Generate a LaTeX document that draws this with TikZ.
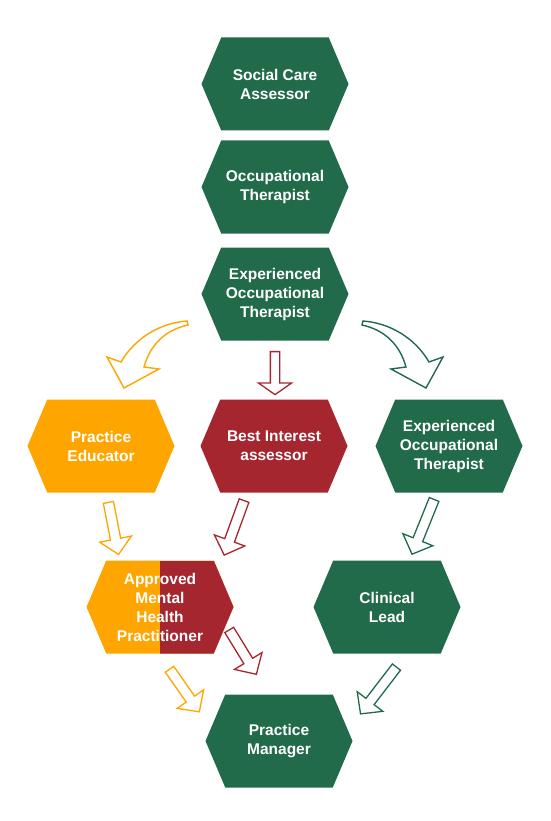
\documentclass[tikz,border=0pt]{standalone}
\usepackage{fontspec}
\setmainfont{Liberation Sans}
\usepackage{tikz}
\usetikzlibrary{shapes.symbols, shapes.arrows, positioning, calc}
\definecolor{cgreen}{RGB}{33,107,74}
\definecolor{corange}{RGB}{255,165,0}
\definecolor{cred}{RGB}{166,38,47}
\tikzset{
    hexa/.style={shape=signal, signal to=west and east, signal pointer angle=134,
        minimum width=147pt, minimum height=93pt, inner sep=0pt, fill=#1,
        text=white, font=\fontsize{15.5}{19}\selectfont\bfseries, align=center},
    splithexa/.style 2 args={hexa=#1, path picture={
        \fill[#2] (path picture bounding box.north) rectangle (path picture bounding box.south east);}},
    blockarr/.style={shape=single arrow, draw=#1, fill=white, line width=1.3pt,
        inner sep=4.5pt, single arrow head extend=11pt, single arrow tip angle=92},
    curvearr/.style={draw=#1, fill=white, line width=1.4pt, line join=miter},
}

\begin{document}
\begin{tikzpicture}[x=1pt, y=-1pt]
    \useasboundingbox (0,0) rectangle (550,821);
    % hexagons
    \foreach \n/\p/\c/\t in {sca/{275,84}/cgreen/{Social Care\\Assessor},
            ot/{275,187}/cgreen/{Occupational\\Therapist},
            eot/{275,294}/cgreen/{Experienced\\Occupational\\Therapist},
            pe/{101,446}/corange/{Practice\\Educator},
            bia/{274,446}/cred/{Best Interest\\assessor},
            eotr/{449,446}/cgreen/{Experienced\\Occupational\\Therapist},
            cl/{387,607}/cgreen/{Clinical\\Lead},
            pm/{279,741}/cgreen/{Practice\\Manager}}
        \node[hexa=\c] (\n) at (\p) {\t};
    \node[splithexa={corange}{cred}] (amhp) at (160,607) {Approved\\Mental\\Health\\Practitioner};
    % straight arrows
    \node[blockarr=cred, rotate=-90, minimum height=43pt, inner sep=4pt,
        single arrow head extend=12pt, single arrow tip angle=110] (a_bia) at (275,371.5) {};
    \foreach \n/\p/\a/\c/\l in {a_pe/{113,526}/-79/corange/53,
            a_bam/{235,525.5}/-110/cred/58,
            a_eot/{424,524.5}/-112/cgreen/59,
            a_ram/{241.5,650}/-58.5/cred/52,
            a_oam/{183,688.5}/-55/corange/52,
            a_cl/{380,688.5}/-127.5/cgreen/59}
        \node[blockarr=\c, rotate=\a, minimum height=\l pt] (\n) at (\p) {};
    % curved arrows
    \draw[curvearr=corange] (187,321) .. controls (160,323) and (135,338) .. (121,362)
        -- (107,357) -- (124,388) -- (159,369) -- (144,367)
        .. controls (150,345) and (165,330) .. (188,325) -- cycle;
    \begin{scope}[shift={(550,0)}, xscale=-1]
        \draw[curvearr=cgreen] (187,321) .. controls (160,323) and (135,338) .. (121,362)
            -- (107,357) -- (124,388) -- (159,369) -- (144,367)
            .. controls (150,345) and (165,330) .. (188,325) -- cycle;
    \end{scope}
\end{tikzpicture}
\end{document}
